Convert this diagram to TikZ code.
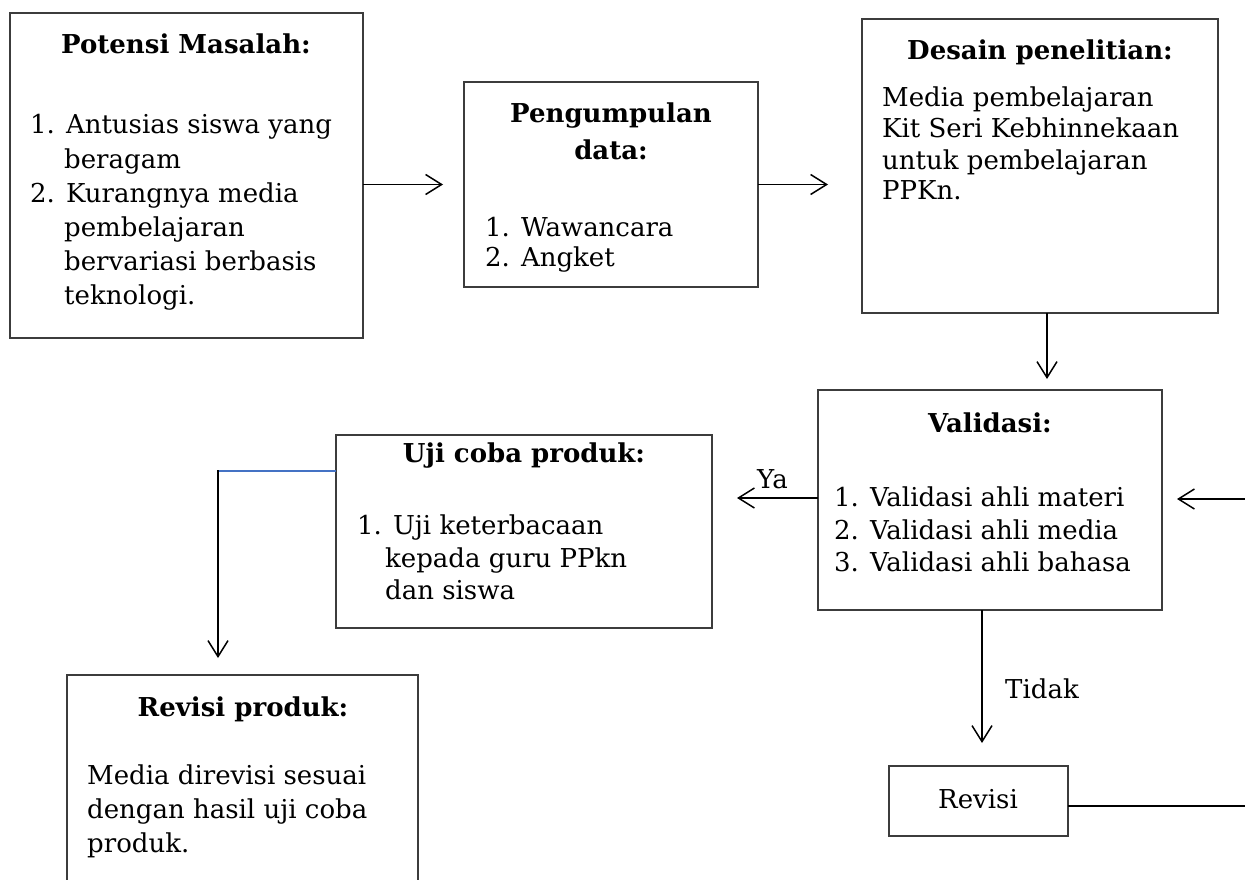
\documentclass[tikz,border=0pt]{standalone}
\usepackage{fontspec}
\setmainfont{DejaVu Serif}
\usetikzlibrary{arrows.meta}
\newcommand\rfs{\fontsize{26}{31}\selectfont}
\newcommand\bfsz{\fontsize{26}{31}\selectfont\bfseries}
\definecolor{boxc}{RGB}{60,60,60}
\definecolor{wordblue}{RGB}{68,114,196}
\tikzset{
  box/.style={draw=boxc, line width=1.4pt, inner sep=0pt, outer sep=0pt, anchor=north west},
  txt/.style={inner sep=0pt, anchor=base west, font=\rfs},
  ttl/.style={inner sep=0pt, anchor=base, font=\bfsz},
  arr/.style={line width=1.5pt, -{Straight Barb[length=16pt,width=20pt,line width=1.5pt]}},
  ln/.style={line width=1.5pt}
}
\begin{document}
\begin{tikzpicture}[x=1pt,y=-1pt]
\useasboundingbox (0,0) rectangle (1245,880);
\clip (0,0) rectangle (1245,880);
\fill[white] (0,0) rectangle (1245,880);
% boxes
\node[box, minimum width=353pt, minimum height=325pt] (pot) at (10,13) {};
\node[box, minimum width=294pt, minimum height=205pt] (peng) at (464,82) {};
\node[box, minimum width=356pt, minimum height=294pt] (des) at (862,19) {};
\node[box, minimum width=344pt, minimum height=220pt] (val) at (818,390) {};
\node[box, minimum width=376pt, minimum height=193pt] (uji) at (336,435) {};
\node[box, minimum width=351pt, minimum height=240pt] (revp) at (67,675) {};
\node[box, minimum width=179pt, minimum height=70pt] (rev) at (889,766) {};
% Potensi Masalah
\node[ttl] (potT) at (186,54) {Potensi Masalah:};
\node[txt] (p1) at (30,134) {1. Antusias siswa yang};
\node[txt] (p1b) at (64,168) {beragam};
\node[txt] (p2) at (30,202) {2. Kurangnya media};
\node[txt] (p2b) at (64,236) {pembelajaran};
\node[txt] (p2c) at (64,270) {bervariasi berbasis};
\node[txt] (p2d) at (64,304) {teknologi.};
% Pengumpulan data
\node[ttl] (pengT1) at (611,123) {Pengumpulan};
\node[ttl] (pengT2) at (611,160) {data:};
\node[txt] (g1) at (485,236) {1. Wawancara};
\node[txt] (g2) at (485,266) {2. Angket};
% Desain penelitian
\node[ttl] (desT) at (1040,60) {Desain penelitian:};
\node[txt] (d1) at (882,107) {Media pembelajaran};
\node[txt] (d2) at (882,138) {Kit Seri Kebhinnekaan};
\node[txt] (d3) at (882,169) {untuk pembelajaran};
\node[txt] (d4) at (882,200) {PPKn.};
% Validasi
\node[ttl] (valT) at (990,432) {Validasi:};
\node[txt] (v1) at (834,506) {1. Validasi ahli materi};
\node[txt] (v2) at (834,539) {2. Validasi ahli media};
\node[txt] (v3) at (834,571) {3. Validasi ahli bahasa};
% Uji coba produk
\node[ttl] (ujiT) at (524,462) {Uji coba produk:};
\node[txt] (u1) at (357,534) {1. Uji keterbacaan};
\node[txt] (u1b) at (385,567) {kepada guru PPkn};
\node[txt] (u1c) at (385,599) {dan siswa};
% Revisi produk
\node[ttl] (revpT) at (243,716) {Revisi produk:};
\node[txt] (r1) at (87,784) {Media direvisi sesuai};
\node[txt] (r2) at (87,818) {dengan hasil uji coba};
\node[txt] (r3) at (87,852) {produk.};
% Revisi
\node[inner sep=0pt, anchor=base, font=\rfs] (revT) at (978,808) {Revisi};
% labels
\node[txt] (ya) at (757,488) {Ya};
\node[txt] (tidak) at (1005,698) {Tidak};
% connectors
\draw[arr, shorten >=21pt] (pot.east |- peng.west) -- (peng.west);
\draw[arr, shorten >=34pt] (peng.east) -- (peng.east -| des.west);
\draw[arr, shorten >=11pt] ([xshift=7pt]des.south) -- ([xshift=7pt]des.south |- val.north);
\draw[arr, shorten >=25pt] ([yshift=2pt]val.west) -- ([yshift=2pt]val.west -| uji.east);
\draw[arr, shorten >=23pt] ([xshift=-8pt]val.south) -- ([xshift=-8pt]val.south |- rev.north);
\coordinate (rr) at (1245,806);
\coordinate (ri) at (1245,499);
\draw[ln] ([yshift=-5pt]rev.east) -- ([yshift=-5pt]rev.east -| rr);
\draw[arr, shorten >=15pt] (ri) -- (ri -| val.east);
\coordinate (bend) at (218,471);
\draw[line width=1.3pt, draw=wordblue] (uji.west |- bend) -- (bend);
\draw[arr, shorten >=17pt] ([yshift=0.7pt]bend) -- (bend |- revp.north);
\end{tikzpicture}
\end{document}
